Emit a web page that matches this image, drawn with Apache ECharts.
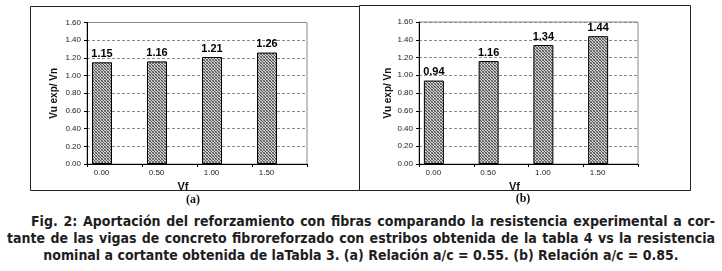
<!DOCTYPE html>
<html>
<head>
<meta charset="utf-8">
<script src="https://cdn.jsdelivr.net/npm/echarts@6/dist/echarts.min.js"></script>
<style>
  html, body { margin: 0; padding: 0; background: #fff; }
  #wrap { position: relative; width: 722px; height: 271px; overflow: hidden; }
  #myChart { position: absolute; left: 0; top: 0; width: 722px; height: 210px; }
  #caption {
    position: absolute; left: 7px; top: 213px; width: 708px;
    font-family: "Liberation Sans Narrow", "DejaVu Sans Condensed", "Liberation Sans", sans-serif;
    font-stretch: condensed; font-weight: bold; font-size: 14px; line-height: 17px; color: #1e1e1e;
  }
  #caption div { white-space: nowrap; }
  .just { text-align: justify; text-align-last: justify; }
  .l1 { padding-left: 24px; }
  .l3 { text-align: center; }
</style>
</head>
<body>
<div id="wrap">
  <div id="myChart"></div>
  <div id="caption">
    <div class="just l1">Fig. 2: Aportación del reforzamiento con fibras comparando la resistencia experimental a cor-</div>
    <div class="just">tante de las vigas de concreto fibroreforzado con estribos obtenida de la tabla 4 vs la resistencia</div>
    <div class="l3">nominal a cortante obtenida de laTabla 3. (a) Relación a/c = 0.55. (b) Relación a/c = 0.85.</div>
  </div>
</div>
<script>
// datos
const vfLabels = ['0.00', '0.50', '1.00', '1.50']
const ratioA = [1.15, 1.16, 1.21, 1.26]   // a/c = 0.55
const ratioB = [0.94, 1.16, 1.34, 1.44]   // a/c = 0.85
const yTicks = ['0.00', '0.20', '0.40', '0.60', '0.80', '1.00', '1.20', '1.40', '1.60']

// textura de las barras (trama punteada)
function makeHatch() {
  const c = document.createElement('canvas')
  c.width = 3
  c.height = 3
  const ctx = c.getContext('2d')
  ctx.fillStyle = '#cfcfcf'
  ctx.fillRect(0, 0, 3, 3)
  ctx.fillStyle = '#555'
  ctx.fillRect(0, 0, 1, 1)
  ctx.fillRect(1, 1, 1, 1)
  ctx.fillRect(2, 2, 1, 1)
  ctx.fillStyle = '#8a8a8a'
  ctx.fillRect(2, 0, 1, 1)
  ctx.fillRect(0, 2, 1, 1)
  return c
}
const hatch = { image: makeHatch(), repeat: 'repeat' }

const font = "'Liberation Sans', Arial, sans-serif"

function xAxisCfg(gridIndex) {
  return {
    type: 'category',
    gridIndex: gridIndex,
    data: vfLabels,
    name: 'Vf',
    nameLocation: 'middle',
    nameGap: 14,
    nameTextStyle: { fontFamily: font, fontWeight: 'bold', fontSize: 11, color: '#111', padding: [0, 28, 0, 0] },
    axisLine: { lineStyle: { color: '#000', width: 1 } },
    axisTick: { show: true, length: 3, lineStyle: { color: '#000' } },
    axisLabel: { fontFamily: font, fontSize: 8, color: '#222', margin: 5, padding: [0, 26, 0, 0] },
    splitLine: { show: false },
  }
}

function yAxisCfg(gridIndex, gap) {
  return {
    type: 'value',
    gridIndex: gridIndex,
    min: 0,
    max: 1.6,
    interval: 0.2,
    name: 'Vu exp/ Vn',
    nameLocation: 'middle',
    nameGap: gap,
    nameTextStyle: { fontFamily: font, fontWeight: 'bold', fontSize: 10, color: '#111' },
    axisLine: { show: true, lineStyle: { color: '#000', width: 1 } },
    axisTick: { show: true, length: 3, lineStyle: { color: '#000' } },
    axisLabel: {
      fontFamily: font, fontSize: 8, color: '#222', margin: 6,
      formatter: (v) => yTicks[Math.round(v / 0.2)],
    },
    splitLine: { show: true, lineStyle: { color: '#8a8a8a', type: [3, 2], width: 1 } },
  }
}

function barSeries(idx, values) {
  return [
    {
      type: 'bar',
      xAxisIndex: idx,
      yAxisIndex: idx,
      data: values,
      barWidth: 20,
      barGap: '25%',
      itemStyle: { color: hatch, borderColor: '#000', borderWidth: 1 },
      label: {
        show: true,
        position: 'top',
        distance: 3,
        fontFamily: font,
        fontWeight: 'bold',
        fontSize: 11,
        color: '#000',
        formatter: (p) => p.value.toFixed(2),
      },
      silent: true,
    },
    // serie vacia: deja el hueco a la derecha de cada barra (como en Excel)
    { type: 'bar', xAxisIndex: idx, yAxisIndex: idx, data: [], barWidth: 20, silent: true },
  ]
}

let myChart = echarts.init(document.getElementById('myChart'))
myChart.setOption({
  animation: false,
  grid: [
    { left: 87, top: 22.5, width: 220, height: 141.5, show: true, borderColor: '#8a8a8a', borderWidth: 1, backgroundColor: 'transparent' },
    { left: 419, top: 22, width: 219, height: 142, show: true, borderColor: '#8a8a8a', borderWidth: 1, backgroundColor: 'transparent' },
  ],
  xAxis: [xAxisCfg(0), xAxisCfg(1)],
  yAxis: [yAxisCfg(0, 28), yAxisCfg(1, 24)],
  series: [...barSeries(0, ratioA), ...barSeries(1, ratioB)],
  graphic: [
    { type: 'rect', shape: { x: 30.5, y: 6.5, width: 329, height: 184 }, style: { fill: 'none', stroke: '#222', lineWidth: 1 }, silent: true },
    { type: 'rect', shape: { x: 359.5, y: 5.5, width: 331, height: 185 }, style: { fill: 'none', stroke: '#222', lineWidth: 1 }, silent: true },
    { type: 'text', x: 193, y: 200, style: { text: '(a)', font: 'bold 12px "Liberation Serif", serif', fill: '#111', align: 'center', verticalAlign: 'middle' } },
    { type: 'text', x: 523, y: 199, style: { text: '(b)', font: 'bold 12px "Liberation Serif", serif', fill: '#111', align: 'center', verticalAlign: 'middle' } },
  ],
})
</script>
</body>
</html>
